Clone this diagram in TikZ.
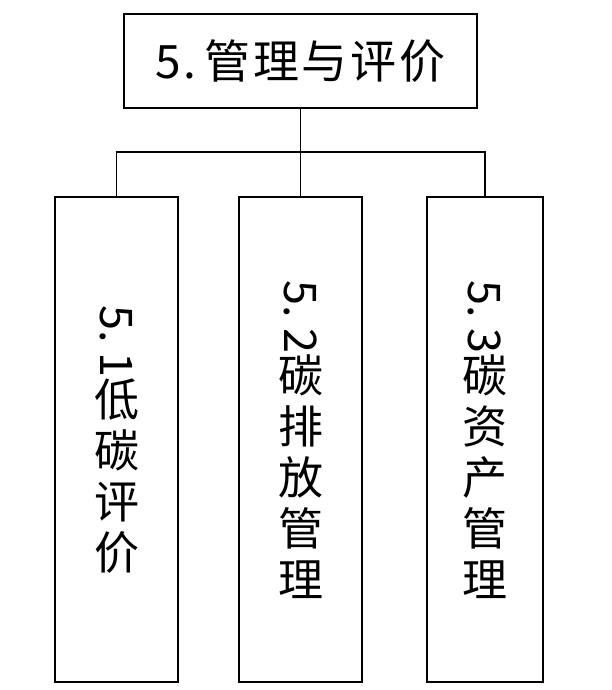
\documentclass[tikz,border=0pt]{standalone}
\usepackage{fontspec}
\newfontfamily\cjk{Noto Sans CJK SC}
\newfontfamily\cjkwide[LetterSpace=6]{Noto Sans CJK SC}
\usepackage{graphicx}
\begin{document}
\begin{tikzpicture}[x=1pt,y=-1pt,
  box/.style={draw=black,line width=1.6pt,inner sep=0pt,outer sep=0pt,fill=white},
  link/.style={draw=black,line width=1.5pt},
  vtext/.style={align=center,inner sep=0pt,font=\cjk\fontsize{45}{51}\selectfont}]
\useasboundingbox[fill=white] (0,0) rectangle (611,690);
\node[box,minimum width=353pt,minimum height=94pt,font=\cjkwide\fontsize{46}{50}\selectfont] (top) at (300.5,61) {5.\,管理与评价};
\node[box,minimum width=123pt,minimum height=485pt] (b1) at (116.5,439.5) {};
\node[box,minimum width=123pt,minimum height=485pt] (b2) at (300.5,439.5) {};
\node[box,minimum width=116pt,minimum height=485pt] (b3) at (485,439.5) {};
\node[vtext] (t1) at (b1.center) {\rotatebox[origin=c]{-90}{5.\ 1}\\低\\碳\\评\\价};
\node[vtext] (t2) at (b2.center) {\rotatebox[origin=c]{-90}{5.\ 2}\\碳\\排\\放\\管\\理};
\node[vtext] (t3) at (b3.center) {\rotatebox[origin=c]{-90}{5.\ 3}\\碳\\资\\产\\管\\理};
\draw[link] (top.south) -- ++(0,44) coordinate (j);
\draw[link] (b1.north) |- (j) -| (b3.north);
\draw[link] (j) -- (b2.north);
\end{tikzpicture}
\end{document}
